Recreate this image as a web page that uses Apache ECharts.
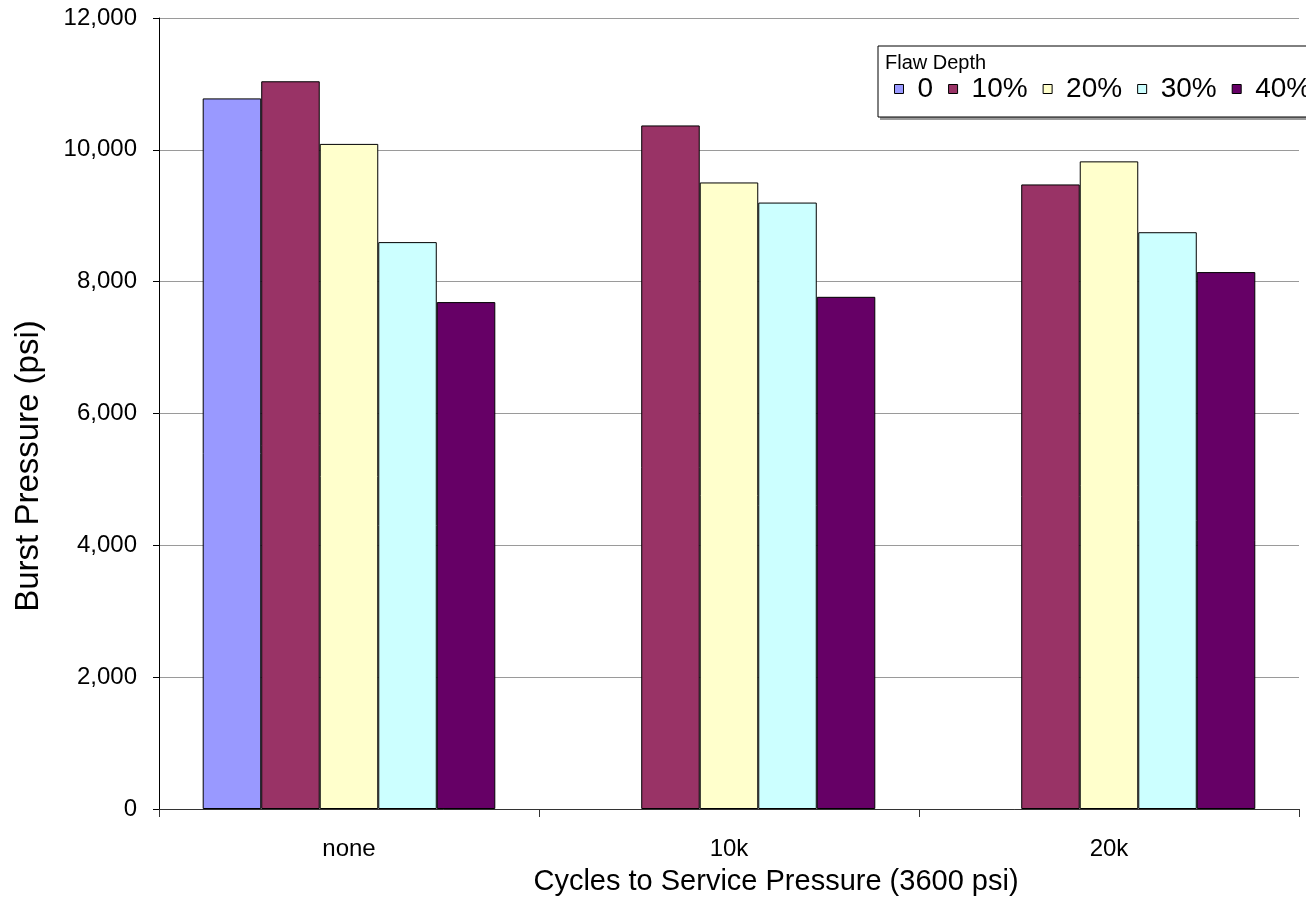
<!DOCTYPE html>
<html>
<head>
<meta charset="utf-8">
<script src="https://cdn.jsdelivr.net/npm/echarts@6/dist/echarts.min.js"></script>
<style>
  html, body { margin: 0; padding: 0; background: #fff; overflow: hidden; }
  #chart { position: fixed; left: 0; top: 0; width: 1306px; height: 897px; }
</style>
</head>
<body>
<div id="chart"></div>
<script>
// Burst pressure by prior pressure cycling and flaw depth
const categories = ['none', '10k', '20k'];
const seriesNames = ['0', '10%', '20%', '30%', '40%'];
const depth0  = [10780, null, null];
const depth10 = [11040, 10370, 9475];
const depth20 = [10090, 9505, 9825];
const depth30 = [8600, 9200, 8750];
const depth40 = [7690, 7770, 8145];
const yTicks = [0, 2000, 4000, 6000, 8000, 10000, 12000];
const xTitle = 'Cycles to Service Pressure (3600 psi)';
const yTitle = 'Burst Pressure (psi)';
const legendTitle = 'Flaw Depth';

const seriesData = [depth0, depth10, depth20, depth30, depth40];
const colors = ['#9999FF', '#993366', '#FFFFCC', '#CCFFFF', '#660066'];
const font = '"Liberation Sans", Arial, sans-serif';

const chart = echarts.init(document.getElementById('chart'));
chart.setOption({
  animation: false,
  backgroundColor: '#ffffff',
  textStyle: { fontFamily: font },
  grid: { left: 159, top: 18, right: 7, bottom: 88, containLabel: false },
  graphic: [
    // legend frame with a soft drop shadow
    {
      type: 'rect',
      shape: { x: 880, y: 48, width: 440, height: 72 },
      style: { fill: '#9a9a9a' },
      z: 9
    },
    {
      type: 'rect',
      shape: { x: 878, y: 46, width: 440, height: 71 },
      style: { fill: '#ffffff', stroke: '#000000', lineWidth: 1 },
      z: 10
    },
    {
      type: 'text',
      x: 885, y: 53,
      style: { text: legendTitle, fontSize: 20, fill: '#000', fontFamily: font },
      z: 11
    },
    // axis titles
    {
      type: 'text',
      x: 776, y: 882,
      style: {
        text: xTitle, fontSize: 29, fill: '#000', fontFamily: font,
        align: 'center', verticalAlign: 'middle'
      }
    },
    {
      type: 'text',
      x: 29, y: 466,
      rotation: Math.PI / 2,
      style: {
        text: yTitle, fontSize: 33, fill: '#000', fontFamily: font,
        align: 'center', verticalAlign: 'middle'
      }
    }
  ],
  legend: {
    left: 894, top: 75,
    width: 600,
    padding: 0,
    itemWidth: 9, itemHeight: 9,
    itemGap: 15,
    icon: 'rect',
    itemStyle: { borderColor: '#000', borderWidth: 1 },
    textStyle: { fontSize: 28, color: '#000', fontFamily: font, padding: [0, 0, 0, 9] },
    data: seriesNames,
    z: 12
  },
  xAxis: {
    type: 'category',
    data: categories,
    axisLine: { lineStyle: { color: '#333', width: 1 } },
    axisTick: { show: true, length: 8, lineStyle: { color: '#333' } },
    axisLabel: { fontSize: 24, color: '#000', margin: 28, fontFamily: font }
  },
  yAxis: {
    type: 'value',
    min: 0, max: 12000, interval: 2000,
    axisLine: { show: true, lineStyle: { color: '#000', width: 1 } },
    axisTick: { show: true, length: 6, lineStyle: { color: '#000' } },
    axisLabel: {
      fontSize: 24, color: '#000', margin: 22, fontFamily: font,
      formatter: v => yTicks.includes(v) ? v.toLocaleString('en-US') : ''
    },
    splitLine: { show: true, lineStyle: { color: '#9a9a9a', width: 1 } }
  },
  series: seriesData.map((d, i) => ({
    name: seriesNames[i],
    type: 'bar',
    data: d,
    barGap: '0%',
    barCategoryGap: '23%',
    itemStyle: { color: colors[i], borderColor: '#000', borderWidth: 1 }
  }))
});
</script>
</body>
</html>
